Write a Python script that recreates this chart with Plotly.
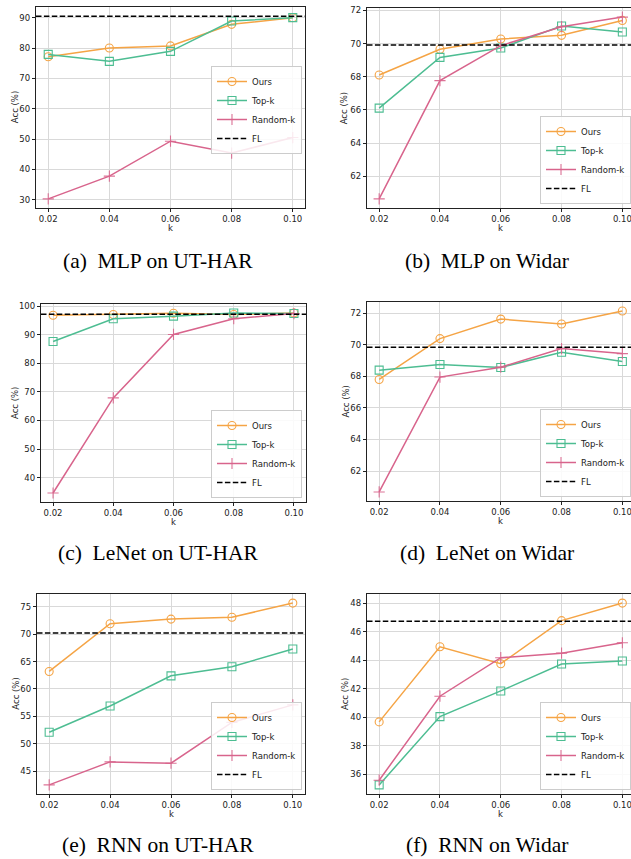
import plotly.graph_objects as go

# ---------------- data ----------------
k_values = [0.02, 0.04, 0.06, 0.08, 0.10]
series_names = ["Ours", "Top-k", "Random-k", "FL"]

mlp_uthar_ours = [77.1, 80.0, 80.7, 87.8, 90.0]
mlp_uthar_topk = [77.9, 75.6, 78.9, 88.9, 90.0]
mlp_uthar_randk = [30.3, 37.8, 49.3, 45.4, 50.5]
mlp_uthar_fl = 90.5

mlp_widar_ours = [68.11, 69.66, 70.28, 70.50, 71.40]
mlp_widar_topk = [66.11, 69.17, 69.74, 71.06, 70.70]
mlp_widar_randk = [60.64, 67.77, 69.88, 71.02, 71.60]
mlp_widar_fl = 69.92

lenet_uthar_ours = [96.8, 97.1, 97.5, 97.1, 97.6]
lenet_uthar_topk = [87.6, 95.6, 96.5, 97.6, 97.4]
lenet_uthar_randk = [34.6, 67.9, 90.1, 95.6, 97.4]
lenet_uthar_fl = 97.2

lenet_widar_ours = [67.81, 70.40, 71.64, 71.33, 72.15]
lenet_widar_topk = [68.40, 68.76, 68.57, 69.54, 68.95]
lenet_widar_randk = [60.67, 67.96, 68.59, 69.77, 69.45]
lenet_widar_fl = 69.85

rnn_uthar_ours = [63.2, 71.9, 72.75, 73.1, 75.67]
rnn_uthar_topk = [52.1, 56.9, 62.4, 64.07, 67.3]
rnn_uthar_randk = [42.5, 46.7, 46.46, 53.9, 57.1]
rnn_uthar_fl = 70.2

rnn_widar_ours = [39.69, 44.96, 43.77, 46.79, 48.02]
rnn_widar_topk = [35.27, 40.06, 41.86, 43.75, 43.96]
rnn_widar_randk = [35.60, 41.49, 44.19, 44.51, 45.24]
rnn_widar_fl = 46.74

captions = ["(a)  MLP on UT-HAR", "(b)  MLP on Widar",
            "(c)  LeNet on UT-HAR", "(d)  LeNet on Widar",
            "(e)  RNN on UT-HAR", "(f)  RNN on Widar"]
x_title = "k"
y_title = "Acc (%)"

panels_data = [
    (mlp_uthar_ours, mlp_uthar_topk, mlp_uthar_randk, mlp_uthar_fl),
    (mlp_widar_ours, mlp_widar_topk, mlp_widar_randk, mlp_widar_fl),
    (lenet_uthar_ours, lenet_uthar_topk, lenet_uthar_randk, lenet_uthar_fl),
    (lenet_widar_ours, lenet_widar_topk, lenet_widar_randk, lenet_widar_fl),
    (rnn_uthar_ours, rnn_uthar_topk, rnn_uthar_randk, rnn_uthar_fl),
    (rnn_widar_ours, rnn_widar_topk, rnn_widar_randk, rnn_widar_fl),
]

# ---------------- layout / style ----------------
W, H = 631, 859
y_dticks = [10, 2, 10, 2, 5, 2]
# plot boxes in pixels: left, right, top, bottom
boxes = [
    (36, 305, 7, 208), (367, 631, 8, 208),
    (41, 306, 304, 502), (367, 631, 302, 501),
    (37, 305, 594, 794), (367, 631, 594, 794),
]
# legend box anchor (right px, y px, anchor)
legend_pos = [
    (302, 110, "middle"), (631, 204, "bottom"),
    (302, 498, "bottom"), (631, 497, "bottom"),
    (302, 790, "bottom"), (631, 790, "bottom"),
]
caption_pos = [(158, 261), (487, 261), (158, 553), (487, 553), (158, 845), (487, 845)]
ytitle_x = [15.7, 344.3, 15, 345, 15.7, 345]

col_ours = "#f5a445"
col_topk = "#4dbd92"
col_rand = "#d8648c"
mk_ours = "rgba(245,164,69,0.75)"
mk_topk = "rgba(77,189,146,0.75)"
mk_rand = "rgba(216,100,140,0.9)"

TICK_FONT = dict(family="DejaVu Sans", size=8.5, color="#222222")
ppu = 3040.0  # px per unit of k

fig = go.Figure()
layout = dict(width=W, height=H, margin=dict(l=0, r=0, t=0, b=0),
              paper_bgcolor="white", plot_bgcolor="white", showlegend=True,
              annotations=[])

for i, (data, box) in enumerate(zip(panels_data, boxes)):
    n = i + 1
    xs = "" if n == 1 else str(n)
    ours, topk, randk, fl = data
    left, right, top, bottom = box
    right_col = (i % 2 == 1)
    x_lo = 0.016
    x_hi = x_lo + (right - left) / ppu if right_col else 0.104
    allv = ours + topk + randk + [fl]
    lo, hi = min(allv), max(allv)
    pad = 0.05 * (hi - lo)
    leg = "legend" if n == 1 else f"legend{n}"

    common = dict(x=k_values, xaxis="x" + xs, yaxis="y" + xs, legend=leg,
                  mode="lines+markers")
    fig.add_trace(go.Scatter(y=ours, name="Ours", **common,
                             line=dict(color=col_ours, width=1.5),
                             marker=dict(symbol="circle-open", size=8,
                                         line=dict(color=mk_ours, width=1.1))))
    fig.add_trace(go.Scatter(y=topk, name="Top-k", **common,
                             line=dict(color=col_topk, width=1.5),
                             marker=dict(symbol="square-open", size=8,
                                         line=dict(color=mk_topk, width=1.1))))
    fig.add_trace(go.Scatter(y=randk, name="Random-k", **common,
                             line=dict(color=col_rand, width=1.5),
                             marker=dict(symbol="cross-thin", size=8,
                                         line=dict(color=mk_rand, width=1.1))))
    fig.add_trace(go.Scatter(x=[x_lo, x_hi], y=[fl, fl], name="FL",
                             xaxis="x" + xs, yaxis="y" + xs, legend=leg,
                             mode="lines",
                             line=dict(color="black", width=1.5, dash="5.5px,2.4px")))

    layout["xaxis" + xs] = dict(
        domain=[left / W, right / W], range=[x_lo, x_hi], anchor="y" + xs,
        tickmode="array", tickvals=k_values, tickformat=".2f",
        ticks="outside", ticklen=3, tickwidth=0.8, tickcolor="#222222",
        tickfont=TICK_FONT, showgrid=True, gridcolor="#d9d9d9", gridwidth=1,
        zeroline=False, showline=True, linecolor="#222222", linewidth=1.2,
        mirror=True, automargin=False, ticklabeloverflow="allow")
    layout["yaxis" + xs] = dict(
        domain=[1 - bottom / H, 1 - top / H], range=[lo - pad, hi + pad],
        anchor="x" + xs, dtick=y_dticks[i], tick0=0,
        ticks="outside", ticklen=3, tickwidth=0.8, tickcolor="#222222",
        tickfont=TICK_FONT, showgrid=True, gridcolor="#d9d9d9", gridwidth=1,
        zeroline=False, showline=True, linecolor="#222222", linewidth=1.2,
        mirror=(not right_col), automargin=False)

    lx, ly, yanc = legend_pos[i]
    layout[leg] = dict(x=lx / W, y=1 - ly / H, xanchor="right", yanchor=yanc,
                       bgcolor="rgba(255,255,255,0.85)", bordercolor="#cccccc",
                       borderwidth=1, font=dict(family="DejaVu Sans", size=8.5,
                                                color="#222222"),
                       itemwidth=30, tracegroupgap=0)

    # axis titles
    k_mid = (k_values[0] + k_values[-1]) / 2
    layout["annotations"].append(dict(
        text=x_title, x=k_mid, xref="x" + xs, y=1 - (bottom + 19.5) / H, yref="paper",
        xanchor="center", yanchor="middle", showarrow=False, font=TICK_FONT))
    layout["annotations"].append(dict(
        text=y_title, x=ytitle_x[i] / W, xref="paper",
        y=1 - (top + bottom) / 2 / H, yref="paper", textangle=-90,
        xanchor="center", yanchor="middle", showarrow=False, font=TICK_FONT))

    cx, cy = caption_pos[i]
    layout["annotations"].append(dict(
        text=captions[i], x=cx / W, y=1 - cy / H, xref="paper", yref="paper",
        xanchor="center", yanchor="middle", showarrow=False,
        font=dict(family="Liberation Serif", size=21.5, color="black")))

fig.update_layout(**layout)
fig.write_html("out.html",
               config={"displayModeBar": False},
               post_script="document.body.style.margin='0px';"
                           "document.body.style.overflow='hidden';")
